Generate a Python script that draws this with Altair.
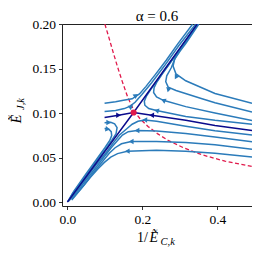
import altair as alt
import pandas as pd

# ---------------- data ----------------
# light-blue trajectories
r1_x = [0.4922, 0.3935, 0.3156, 0.2896, 0.2818, 0.2857, 0.3000, 0.3156, 0.3506]
r1_y = [0.1111, 0.1221, 0.1364, 0.1441, 0.1529, 0.1606, 0.1694, 0.1782, 0.2000]
r2_x = [0.4922, 0.3935, 0.3590, 0.2896, 0.2688, 0.2623, 0.2649, 0.2766, 0.2883, 0.3052, 0.3481]
r2_y = [0.1012, 0.1117, 0.1161, 0.1254, 0.1293, 0.1353, 0.1419, 0.1507, 0.1628, 0.1738, 0.2000]
r3_x = [0.4922, 0.3935, 0.3156, 0.2558, 0.2377, 0.2299, 0.2312, 0.2390, 0.2532, 0.2792, 0.3078, 0.3468]
r3_y = [0.0916, 0.1001, 0.1073, 0.1144, 0.1183, 0.1232, 0.1287, 0.1353, 0.1441, 0.1595, 0.1760, 0.2000]
r4_x = [0.4922, 0.3935, 0.3156, 0.2636, 0.2377, 0.2169, 0.2065, 0.2052, 0.2104, 0.2221, 0.2429, 0.2766, 0.3104, 0.3468]
r4_y = [0.0875, 0.0919, 0.0963, 0.1007, 0.1029, 0.1051, 0.1089, 0.1133, 0.1188, 0.1265, 0.1386, 0.1584, 0.1782, 0.2000]
lu1_x = [0.0992, 0.1286, 0.1494, 0.1727, 0.1922, 0.2091, 0.2338, 0.2636, 0.2948, 0.3338]
lu1_y = [0.1111, 0.1128, 0.1144, 0.1161, 0.1216, 0.1298, 0.1430, 0.1595, 0.1782, 0.2000]
lu2_x = [0.0992, 0.1286, 0.1519, 0.1675, 0.1805, 0.1987, 0.2247, 0.2584, 0.2974, 0.3416]
lu2_y = [0.1018, 0.1029, 0.1051, 0.1078, 0.1122, 0.1210, 0.1342, 0.1529, 0.1760, 0.2000]
ll1_x = [0.0992, 0.1156, 0.1260, 0.1325, 0.1299, 0.1182, 0.1000, 0.0740, 0.0442, 0.0130, 0.0013]
ll1_y = [0.0891, 0.0897, 0.0880, 0.0836, 0.0770, 0.0693, 0.0583, 0.0440, 0.0264, 0.0088, 0.0006]
ll2_x = [0.0992, 0.1104, 0.1169, 0.1182, 0.1130, 0.1000, 0.0766, 0.0481, 0.0169, 0.0013]
ll2_y = [0.0828, 0.0820, 0.0792, 0.0748, 0.0693, 0.0611, 0.0473, 0.0308, 0.0121, 0.0006]
rl1_x = [0.4922, 0.3935, 0.3156, 0.2377, 0.2065, 0.1883, 0.1727, 0.1584, 0.1390, 0.1234, 0.1039, 0.0766, 0.0532, 0.0229, 0.0026]
rl1_y = [0.0754, 0.0803, 0.0853, 0.0908, 0.0924, 0.0908, 0.0875, 0.0825, 0.0754, 0.0671, 0.0561, 0.0418, 0.0286, 0.0121, 0.0011]
rl2_x = [0.4922, 0.3935, 0.3156, 0.2377, 0.1857, 0.1623, 0.1468, 0.1338, 0.1169, 0.0935, 0.0662, 0.0364, 0.0039]
rl2_y = [0.0677, 0.0732, 0.0770, 0.0798, 0.0806, 0.0792, 0.0754, 0.0693, 0.0611, 0.0484, 0.0336, 0.0176, 0.0011]
rl3_x = [0.4922, 0.3935, 0.3156, 0.2377, 0.1701, 0.1442, 0.1273, 0.1117, 0.0948, 0.0714, 0.0455, 0.0117]
rl3_y = [0.0594, 0.0644, 0.0671, 0.0682, 0.0682, 0.0655, 0.0611, 0.0550, 0.0462, 0.0341, 0.0198, 0.0033]
rl4_x = [0.4922, 0.3935, 0.3156, 0.2377, 0.1597, 0.1338, 0.1156, 0.0987, 0.0818, 0.0610, 0.0377, 0.0117]
rl4_y = [0.0506, 0.0550, 0.0572, 0.0583, 0.0572, 0.0545, 0.0506, 0.0446, 0.0374, 0.0275, 0.0154, 0.0022]

# navy separatrices
diag_x = [0.0, 0.1766, 0.3460]
diag_y = [0.0, 0.1007, 0.2000]
stl_x = [0.0992, 0.1364, 0.1766]
stl_y = [0.0952, 0.0977, 0.1007]
str_x = [0.1766, 0.2247, 0.3156, 0.3935, 0.4922]
str_y = [0.1007, 0.0976, 0.0919, 0.0861, 0.0806]

# red dashed curve
red_x = [0.100, 0.110, 0.121, 0.133, 0.146, 0.160, 0.177, 0.195, 0.215, 0.240, 0.270, 0.310, 0.360, 0.420, 0.492]
red_y = [0.200, 0.186, 0.170, 0.153, 0.136, 0.119, 0.103, 0.093, 0.085, 0.077, 0.069, 0.061, 0.053, 0.046, 0.040]

# fixed point
fp_x = [0.1766]
fp_y = [0.1007]

# arrow heads (position and direction in degrees, clockwise from up)
arr_x = [0.2896, 0.2681, 0.2558, 0.2377, 0.1831, 0.1701, 0.1104, 0.1078, 0.2065, 0.1857, 0.1701, 0.1597]
arr_y = [0.1419, 0.1276, 0.1144, 0.1029, 0.1199, 0.1073, 0.0894, 0.0820, 0.0924, 0.0806, 0.0682, 0.0572]
arr_a = [330, 315, 295, 285, 55, 55, 90, 100, 272, 270, 270, 268]
narr_x = [0.1364, 0.2247]
narr_y = [0.0977, 0.0976]
narr_a = [90, 272]

x_ticks = [0.0, 0.2, 0.4]
y_ticks = [0.0, 0.05, 0.10, 0.15, 0.20]

# ---------------- build tables ----------------
def table(curves):
    rows = []
    for name, (xs, ys) in curves.items():
        for i, (a, b) in enumerate(zip(xs, ys)):
            rows.append({"curve": name, "i": i, "x": a, "y": b})
    return pd.DataFrame(rows)

light_df = table({"R1": (r1_x, r1_y), "R2": (r2_x, r2_y), "R3": (r3_x, r3_y), "R4": (r4_x, r4_y),
                  "LU1": (lu1_x, lu1_y), "LU2": (lu2_x, lu2_y), "LL1": (ll1_x, ll1_y), "LL2": (ll2_x, ll2_y),
                  "RL1": (rl1_x, rl1_y), "RL2": (rl2_x, rl2_y), "RL3": (rl3_x, rl3_y), "RL4": (rl4_x, rl4_y)})
navy_df = table({"D": (diag_x, diag_y), "SL": (stl_x, stl_y), "SR": (str_x, str_y)})
red_df = table({"red": (red_x, red_y)})
fp_df = pd.DataFrame({"x": fp_x, "y": fp_y})
arr_df = pd.DataFrame({"x": arr_x, "y": arr_y, "a": arr_a})
narr_df = pd.DataFrame({"x": narr_x, "y": narr_y, "a": narr_a})

LIGHT = "#2b7bba"
NAVY = "#0a0a8c"
RED = "#e0194b"
FONT = "Liberation Serif"

xs = alt.Scale(domain=[-0.0143, 0.4922], nice=False, zero=False)
ys = alt.Scale(domain=[-0.0044, 0.2002], nice=False, zero=False)
xa = alt.Axis(values=x_ticks, format=".1f", title=None)
ya = alt.Axis(values=y_ticks, format=".2f", title=None)

X = alt.X("x:Q", scale=xs, axis=xa)
Y = alt.Y("y:Q", scale=ys, axis=ya)

red_line = alt.Chart(red_df).mark_line(color=RED, strokeWidth=1.3, strokeDash=[4, 2.5], clip=True).encode(
    x=X, y=Y, order="i:Q")
light_lines = alt.Chart(light_df).mark_line(color=LIGHT, strokeWidth=1.5, clip=True).encode(
    x=X, y=Y, detail="curve:N", order="i:Q")
navy_lines = alt.Chart(navy_df).mark_line(color=NAVY, strokeWidth=1.5, clip=True).encode(
    x=X, y=Y, detail="curve:N", order="i:Q")
arrows = alt.Chart(arr_df).mark_point(shape="triangle-up", filled=True, color=LIGHT, size=30, opacity=1).encode(
    x=X, y=Y, angle=alt.Angle("a:Q", scale=None))
narrows = alt.Chart(narr_df).mark_point(shape="triangle-up", filled=True, color=NAVY, size=30, opacity=1).encode(
    x=X, y=Y, angle=alt.Angle("a:Q", scale=None))
fp = alt.Chart(fp_df).mark_point(shape="circle", filled=True, color=RED, size=38, opacity=1).encode(x=X, y=Y)

def label(text, px, py, size, style="normal", angle=0, align="left"):
    return alt.Chart(pd.DataFrame({"t": [text]})).mark_text(
        font=FONT, fontSize=size, fontStyle=style, color="black", align=align, baseline="alphabetic",
        angle=angle).encode(x=alt.value(px), y=alt.value(py), text="t:N")

# positions below are relative to the plot's top-left corner
title = label("α  =  0.6", 95, -3, 15, align="center")
xt1 = label("1/", 75, 218, 14)
xt2 = label("Ẽ", 87.5, 218, 14, style="italic")
xt3 = label("C,k", 98.5, 220.5, 10.5, style="italic")
yt1 = label("Ẽ", -41, 95, 14, style="italic", angle=270, align="center")
yt2 = label("J,k", -38, 80, 10.5, style="italic", angle=270, align="center")

chart = alt.layer(red_line, light_lines, navy_lines, arrows, narrows, fp,
                  title, xt1, xt2, xt3, yt1, yt2).properties(
    width=190, height=182,
    autosize=alt.AutoSizeParams(type="none"),
    padding={"left": 54, "top": 16, "right": 0, "bottom": 42},
).configure_view(stroke="#222222", strokeWidth=1).configure_axis(
    domain=False, grid=False, tickSize=3.5, tickColor="black", tickWidth=0.8,
    labelFont=FONT, labelFontSize=13.5, labelColor="black", labelPadding=3)

chart.save("out.html", embed_options={"renderer": "svg", "actions": False})
